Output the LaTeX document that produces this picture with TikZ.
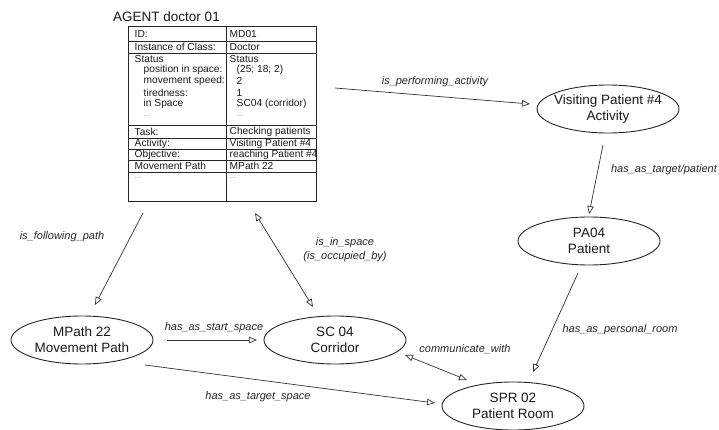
\documentclass[tikz,border=0pt]{standalone}
\usepackage{fontspec}
\setmainfont{Liberation Sans}
\usetikzlibrary{shapes.geometric}
\usetikzlibrary{arrows.meta}
\newcommand{\celldots}{{\color{black!55}\scriptsize\ldots}}
\tikzset{
    ellnode/.style = {ellipse, draw=black!85, line width=0.9pt, minimum width=142pt, minimum height=48pt, inner xsep=-8pt, inner ysep=0pt, align=center, font=\fontsize{13.5}{16}\selectfont, text=black!90},
    agentbox/.style = {rectangle, draw=black!85, line width=0.9pt, minimum width=188pt, minimum height=175pt, inner sep=0pt},
    titlenode/.style = {inner sep=0pt, font=\fontsize{13.5}{16}\selectfont, text=black!90},
    tabcell/.style = {anchor=west, inner sep=0pt, font=\fontsize{10.2}{11}\selectfont, text=black!90},
    tabline/.style = {line width=0.9pt, black!85},
    edgea/.style = {-{Triangle[open,length=8pt,width=6.5pt]}, line width=0.7pt, black!80},
    edged/.style = {{Triangle[open,length=8pt,width=6.5pt]}-{Triangle[open,length=8pt,width=6.5pt]}, line width=0.7pt, black!80},
    edgelbl/.style = {align=center, inner sep=0pt, font=\fontsize{11}{14}\selectfont\itshape, text=black!85}
}

\begin{document}
\begin{tikzpicture}[x=1pt, y=-1pt]
  \useasboundingbox (0,0) rectangle (719,430);

  % agent table
  \node[titlenode] (title) at (166.5,17) {AGENT doctor 01};
  \node[agentbox] (agent) at (222,113.5) {};
  \foreach \y in {41,53,125.5,138,149.3,160.3,172}
    \draw[tabline] (agent.west |- 0,\y) -- (agent.east |- 0,\y);
  \draw[tabline] (226.5,0 |- agent.north) -- (226.5,0 |- agent.south);
  \foreach \y/\d/\a/\b [count=\i] in {
      34/0/ID:/MD01,
      47/0/Instance of Class:/Doctor,
      59/0/Status/Status,
      70/1/position in space:/(25; 18; 2),
      81/1/movement speed:/2,
      92.5/1/tiredness:/1,
      104/1/in Space/SC04 (corridor),
      116/1/\celldots/\celldots,
      132/0/Task:/Checking patients,
      143.5/0/Activity:/Visiting Patient \#4,
      154.5/0/Objective:/reaching Patient \#4,
      166/0/Movement Path/MPath 22,
      178/0/\celldots/\celldots}
  {
    \node[tabcell] (l\i) at (134.5+9*\d,\y) {\a};
    \node[tabcell] (r\i) at (229.5+7*\d,\y) {\b};
  }

  % concepts
  \node[ellnode] (visit) at (608,109) {Visiting Patient \#4\\Activity};
  \node[ellnode] (patient) at (589,241) {PA04\\Patient};
  \node[ellnode] (mpath) at (82,340) {MPath 22\\Movement Path};
  \node[ellnode] (corridor) at (335,340) {SC 04\\Corridor};
  \node[ellnode] (room) at (513,406) {SPR 02\\Patient Room};

  % relations
  \draw[edgea] ([shift={(113,-25.5)}]agent.center) -- ([shift={(-78,-5)}]visit.center);
  \draw[edgea] ([shift={(-5,36)}]visit.center) -- ([shift={(0,-27)}]patient.center);
  \draw[edgea] ([shift={(-11,32)}]patient.center) -- ([shift={(20,-34)}]room.center);
  \draw[edged] ([shift={(70,15)}]corridor.center) -- ([shift={(-46,-26)}]room.center);
  \draw[edgea] ([shift={(63,25)}]mpath.center) -- ([shift={(-78,-3)}]room.center);
  \draw[edgea] ([shift={(85,0)}]mpath.center) -- ([shift={(-78,0)}]corridor.center);
  \draw[edgea] ([shift={(-79,99.5)}]agent.center) -- ([shift={(13,-35)}]mpath.center);
  \draw[edged] ([shift={(33,99.5)}]agent.center) -- ([shift={(-22,-33)}]corridor.center);

  \node[edgelbl] (lperf) at (435,82) {is\_performing\_activity};
  \node[edgelbl] (ltarget) at (664,170) {has\_as\_target/patient};
  \node[edgelbl] (lroom) at (620,330) {has\_as\_personal\_room};
  \node[edgelbl] (lcomm) at (465,349) {communicate\_with};
  \node[edgelbl] (ltspace) at (258,397) {has\_as\_target\_space};
  \node[edgelbl] (lsspace) at (214,328) {has\_as\_start\_space};
  \node[edgelbl] (lfollow) at (62,237) {is\_following\_path};
  \node[edgelbl] (lspace) at (345,250) {is\_in\_space\\(is\_occupied\_by)};
\end{tikzpicture}
\end{document}
